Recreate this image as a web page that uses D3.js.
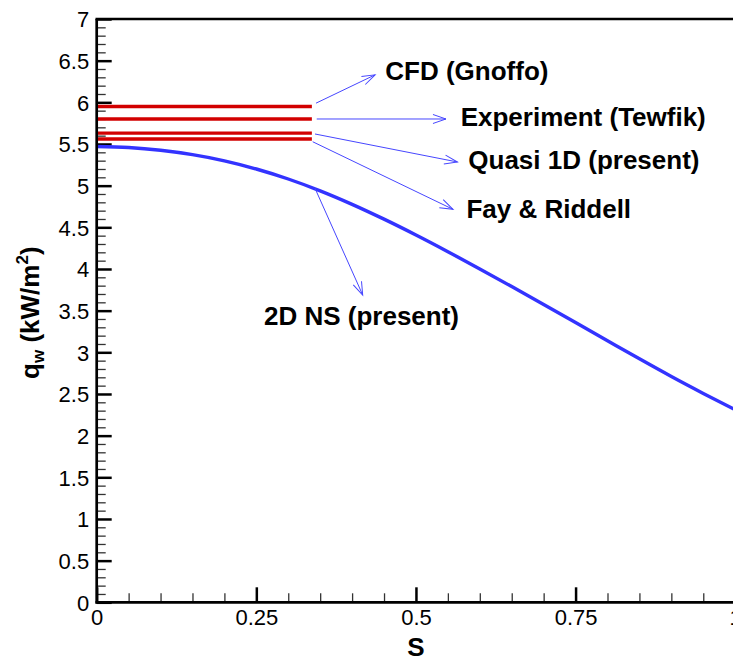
<!DOCTYPE html>
<html>
<head>
<meta charset="utf-8">
<script src="https://cdn.jsdelivr.net/npm/d3@7"></script>
<style>
  html, body { margin: 0; padding: 0; background: #fff; }
  svg { display: block; }
  text { font-family: "Liberation Sans", Arial, sans-serif; }
</style>
</head>
<body>
<svg id="chart" width="733" height="659"></svg>
<script>
// Wall heat flux along the surface coordinate S
const sValues = [0, 0.05, 0.1, 0.15, 0.2, 0.25, 0.3, 0.35, 0.4, 0.45, 0.5,
                 0.55, 0.6, 0.65, 0.7, 0.75, 0.8, 0.85, 0.9, 0.95, 1.0];
const qNS = [5.47, 5.458, 5.425, 5.372, 5.298, 5.2, 5.08, 4.938, 4.776, 4.598, 4.408,
             4.208, 4.001, 3.789, 3.574, 3.357, 3.139, 2.922, 2.71, 2.507, 2.31];

// Stagnation-point reference values (drawn as short horizontal segments)
const refNames = ["CFD (Gnoffo)", "Experiment (Tewfik)", "Quasi 1D (present)", "Fay & Riddell"];
const refValues = [5.95, 5.8, 5.63, 5.56];
const refExtent = 0.337;

// Axis ticks
const xMajor = [0, 0.25, 0.5, 0.75, 1];
const xTickLabels = ["0", "0.25", "0.5", "0.75", "1"];
const yMajor = [0, 0.5, 1, 1.5, 2, 2.5, 3, 3.5, 4, 4.5, 5, 5.5, 6, 6.5, 7];
const yTickLabels = ["0", "0.5", "1", "1.5", "2", "2.5", "3", "3.5", "4", "4.5", "5", "5.5", "6", "6.5", "7"];

// Callouts: arrow from (s0,q0) to (s1,q1), label anchored at (ls,lq)
const callouts = [
  { text: "CFD (Gnoffo)",        s0: 0.3435, q0: 5.99, s1: 0.436, q1: 6.33, ls: 0.452, lq: 6.268 },
  { text: "Experiment (Tewfik)", s0: 0.3446, q0: 5.80, s1: 0.547, q1: 5.80, ls: 0.570, lq: 5.716 },
  { text: "Quasi 1D (present)",  s0: 0.3419, q0: 5.62, s1: 0.565, q1: 5.284, ls: 0.582, lq: 5.20 },
  { text: "Fay & Riddell",       s0: 0.3383, q0: 5.527, s1: 0.558, q1: 4.716, ls: 0.579, lq: 4.615 },
  { text: "2D NS (present)",     s0: 0.3419, q0: 4.968, s1: 0.4166, q1: 3.688, ls: 0.262, lq: 3.328 }
];

const svg = d3.select("#chart");
const plotLeft = 96.7, plotRight = 735.2, plotTop = 19, plotBottom = 602.3;

const x = d3.scaleLinear().domain([0, 1]).range([plotLeft, plotRight]);
const y = d3.scaleLinear().domain([0, 7]).range([plotBottom, plotTop]);

// arrowhead marker (open chevron)
svg.append("defs").append("marker")
  .attr("id", "chev")
  .attr("markerUnits", "userSpaceOnUse")
  .attr("viewBox", "-14 -6 16 12")
  .attr("refX", 0).attr("refY", 0)
  .attr("markerWidth", 16).attr("markerHeight", 12)
  .attr("orient", "auto")
  .append("path")
  .attr("d", "M-13,-4.5 L0,0 L-13,4.5")
  .attr("fill", "none")
  .attr("stroke", "#4646ff")
  .attr("stroke-width", 1);

// minor ticks
const xMinor = d3.range(0, 1.0001, 0.05).filter(v => Math.abs(v / 0.25 - Math.round(v / 0.25)) > 1e-6);
const yMinor = d3.range(0, 7.0001, 0.1).filter(v => Math.abs(v / 0.5 - Math.round(v / 0.5)) > 1e-6);

const gxMinor = svg.append("g").attr("transform", `translate(0,${plotBottom})`)
  .call(d3.axisBottom(x).tickValues(xMinor).tickSize(-9).tickFormat(""));
const gyMinor = svg.append("g").attr("transform", `translate(${plotLeft},0)`)
  .call(d3.axisLeft(y).tickValues(yMinor).tickSize(-9).tickFormat(""));
[gxMinor, gyMinor].forEach(g => {
  g.select(".domain").remove();
  g.selectAll(".tick line").attr("stroke", "#333").attr("stroke-width", 1.3);
});

// major ticks with labels
const gx = svg.append("g").attr("transform", `translate(0,${plotBottom})`)
  .call(d3.axisBottom(x).tickValues(xMajor).tickSize(-15).tickPadding(7)
    .tickFormat((d, i) => xTickLabels[i]));
const gy = svg.append("g").attr("transform", `translate(${plotLeft},0)`)
  .call(d3.axisLeft(y).tickValues(yMajor).tickSize(-15).tickPadding(7.5)
    .tickFormat((d, i) => yTickLabels[i]));
[gx, gy].forEach(g => {
  g.select(".domain").remove();
  g.selectAll(".tick line").attr("stroke", "#000").attr("stroke-width", 2.5);
  g.selectAll(".tick text").attr("fill", "#000")
    .style("font-size", "22px").style("font-family", "'Liberation Sans', Arial, sans-serif");
});
gx.selectAll(".tick text").attr("dy", "0.71em");
gy.selectAll(".tick text").attr("dy", "0.36em");

// reference segments
svg.append("g").selectAll("line").data(refValues).join("line")
  .attr("x1", x(0)).attr("x2", x(refExtent))
  .attr("y1", d => y(d)).attr("y2", d => y(d))
  .attr("stroke", "#d20000").attr("stroke-width", 3.4);

// 2D NS curve
const line = d3.line().x((d, i) => x(sValues[i])).y(d => y(d)).curve(d3.curveMonotoneX);
svg.append("path").datum(qNS)
  .attr("d", line)
  .attr("fill", "none")
  .attr("stroke", "#3333ff")
  .attr("stroke-width", 3.4);

// frame
svg.append("g").selectAll("line").data([
  [plotLeft, plotTop, plotLeft, plotBottom + 1.2],
  [plotLeft - 1.2, plotBottom, plotRight + 2, plotBottom],
  [plotLeft - 1.2, plotTop, plotRight + 2, plotTop],
  [plotRight, plotTop, plotRight, plotBottom]
]).join("line")
  .attr("x1", d => d[0]).attr("y1", d => d[1]).attr("x2", d => d[2]).attr("y2", d => d[3])
  .attr("stroke", "#000").attr("stroke-width", 2.7);

// callouts
const gc = svg.append("g");
gc.selectAll("line").data(callouts).join("line")
  .attr("x1", d => x(d.s0)).attr("y1", d => y(d.q0))
  .attr("x2", d => x(d.s1)).attr("y2", d => y(d.q1))
  .attr("stroke", "#4646ff").attr("stroke-width", 1)
  .attr("marker-end", "url(#chev)");
gc.selectAll("text").data(callouts).join("text")
  .attr("x", d => x(d.ls)).attr("y", d => y(d.lq))
  .attr("font-size", 26).attr("font-weight", "bold").attr("fill", "#000")
  .text(d => d.text);

// axis titles
svg.append("text")
  .attr("x", x(0.5)).attr("y", 656)
  .attr("text-anchor", "middle")
  .attr("font-size", 26).attr("font-weight", "bold")
  .text("S");

const yt = svg.append("text")
  .attr("transform", `translate(38.5,${(plotTop + plotBottom) / 2 + 2}) rotate(-90)`)
  .attr("text-anchor", "middle")
  .attr("font-size", 26).attr("font-weight", "bold");
yt.append("tspan").text("q");
yt.append("tspan").attr("font-size", 17).attr("dy", 5).text("w");
yt.append("tspan").attr("dy", -5).text(" (kW/m");
yt.append("tspan").attr("font-size", 17).attr("dy", -11).text("2");
yt.append("tspan").attr("dy", 11).text(")");
</script>
</body>
</html>
